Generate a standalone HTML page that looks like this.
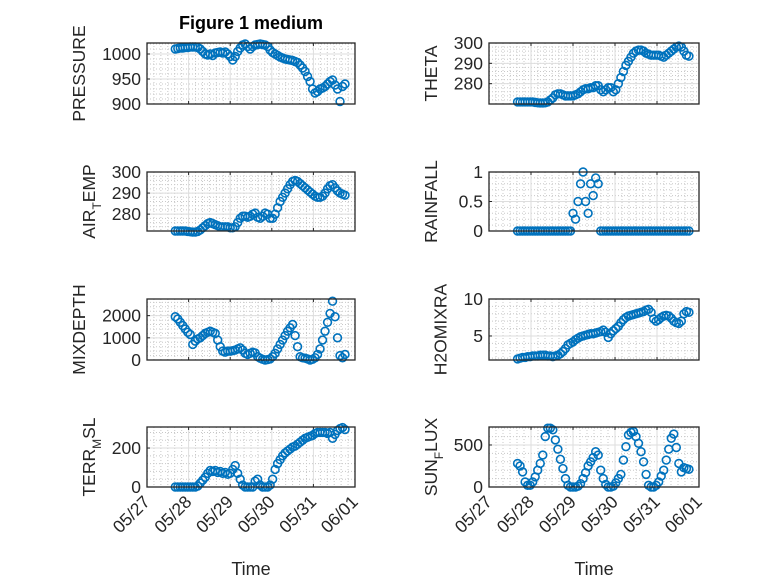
<!DOCTYPE html>
<html><head><meta charset="utf-8"><style>
html,body{margin:0;padding:0;background:#fff;}
svg{display:block;font-family:"Liberation Sans",sans-serif;}
</style></head><body>
<svg id="fig" width="778" height="583" viewBox="0 0 778 583" xmlns="http://www.w3.org/2000/svg">
<rect x="0" y="0" width="778" height="583" fill="#fff"/>
<text x="251" y="29" text-anchor="middle" font-size="18" font-weight="bold" fill="#000">Figure 1 medium</text>
</svg>
<script>
const times=[0.68,0.74,0.80,0.86,0.92,0.98,1.04,1.10,1.16,1.22,1.28,1.34,1.40,1.46,1.52,1.58,1.64,1.70,1.76,1.82,1.88,1.94,2.00,2.06,2.12,2.18,2.24,2.30,2.36,2.42,2.48,2.54,2.60,2.66,2.72,2.78,2.84,2.90,2.96,3.02,3.08,3.14,3.20,3.26,3.32,3.38,3.44,3.50,3.56,3.62,3.68,3.74,3.80,3.86,3.92,3.98,4.04,4.10,4.16,4.22,4.28,4.34,4.40,4.46,4.52,4.58,4.64,4.70,4.76];
const pressure=[1010,1011,1012,1012,1013,1013,1014,1014,1014,1013,1010,1005,1000,998,1000,997,1002,1003,1004,1002,1004,1000,995,988,995,1005,1012,1018,1020,1015,1010,1015,1018,1019,1020,1019,1018,1015,1008,1003,1000,997,994,992,990,989,988,987,985,983,978,972,965,955,945,930,922,925,930,932,935,940,945,948,938,930,905,935,940];
const theta=[271,271,271,271,271,271,271,270.8,270.6,270.5,270.5,270.6,271,272,273,274.5,275,275,274.5,274,274,274,274,274.5,275,276,277,277.5,277.5,278,278,279,279,277,276,277,278,278,276,277,280,283,286,289,291,293,295,296,296.5,296.5,296,295,294.5,294,294,294,294,293.5,293,294,295,296,297,298,298.5,298,296,294,293.5];
const airTemp=[272,272,272,272,272,271.8,271.6,271.5,271.5,271.8,272.5,273.5,274.5,275.5,276,275.5,275,274.5,274,274,274,274,273.5,273.5,274,276,278,279,279,278.5,279,280,280.5,278.5,278,279,280.5,280,278,278,280,283,286,288,290,292,294,295.5,296,295.5,294.5,293.5,292.5,291.5,290.5,289.5,288.5,288,288,288.5,290,292,293.5,294,292.5,291,290,289.5,289];
const rainfall=[0,0,0,0,0,0,0,0,0,0,0,0,0,0,0,0,0,0,0,0,0,0,0.3,0.2,0.5,0.8,1.0,0.5,0.3,0.8,0.6,0.9,0.8,0,0,0,0,0,0,0,0,0,0,0,0,0,0,0,0,0,0,0,0,0,0,0,0,0,0,0,0,0,0,0,0,0,0,0,0];
const mixDepth=[1950,1850,1700,1550,1400,1250,1150,700,850,950,1000,1100,1200,1250,1300,1250,1200,900,600,400,350,400,400,420,450,500,550,450,300,250,300,350,320,150,80,30,0,20,50,150,300,500,700,900,1100,1300,1450,1600,1100,600,150,100,80,50,0,30,100,250,500,900,1300,1700,2100,2650,1950,1000,200,100,250];
const h2oMixRa=[1.9,2.0,2.1,2.1,2.2,2.2,2.3,2.3,2.3,2.4,2.4,2.4,2.3,2.3,2.2,2.3,2.4,2.6,2.9,3.3,3.8,4.0,4.2,4.5,4.7,4.9,5.0,5.1,5.2,5.3,5.3,5.4,5.5,5.6,5.8,5.5,4.8,5.3,5.7,6.0,6.3,6.8,7.2,7.5,7.7,7.8,7.9,8.0,8.1,8.2,8.3,8.5,8.6,8.2,7.3,7.0,7.2,7.5,7.7,7.8,7.7,7.4,7.0,6.8,6.7,7.0,8.0,8.3,8.2];
const terrMsl=[0,0,0,0,0,0,0,0,0,5,20,35,50,70,85,80,85,75,80,70,75,65,70,90,110,70,40,10,0,0,0,0,30,40,10,0,0,0,10,40,90,120,140,160,175,185,195,205,210,220,230,240,250,255,260,265,275,280,280,280,280,275,280,250,270,290,300,305,295];
const sunFlux=[280,250,180,60,20,20,60,120,200,280,380,600,700,700,680,560,450,330,220,100,20,0,0,0,10,40,100,170,250,300,350,420,380,200,100,30,0,0,10,50,100,150,320,480,620,650,660,600,520,420,300,150,20,0,0,20,60,130,200,320,450,580,630,470,280,180,230,220,210];
const xTickLabels=["05/27","05/28","05/29","05/30","05/31","06/01"];
const xTickDays=[0,1,2,3,4,5];

const NS="http://www.w3.org/2000/svg";
const svg=document.getElementById('fig');
function mk(tag,attrs,parent){const e=document.createElementNS(NS,tag);for(const k in attrs)e.setAttribute(k,attrs[k]);(parent||svg).appendChild(e);return e;}

const panels=[
 {name:'pressure',label:['PRESSURE'],vals:pressure,col:0,row:0,ymin:900,ymax:1022,ticks:[900,950,1000],minor:10},
 {name:'theta',label:['THETA'],vals:theta,col:1,row:0,ymin:270,ymax:300,ticks:[280,290,300],minor:2},
 {name:'air-temp',label:['AIR','T','EMP'],vals:airTemp,col:0,row:1,ymin:272,ymax:300,ticks:[280,290,300],minor:2},
 {name:'rainfall',label:['RAINFALL'],vals:rainfall,col:1,row:1,ymin:0,ymax:1,ticks:[0,0.5,1],minor:0.1},
 {name:'mixdepth',label:['MIXDEPTH'],vals:mixDepth,col:0,row:2,ymin:0,ymax:2750,ticks:[0,1000,2000],minor:200},
 {name:'h2omixra',label:['H2OMIXRA'],vals:h2oMixRa,col:1,row:2,ymin:1.75,ymax:10,ticks:[5,10],minor:1},
 {name:'terr-msl',label:['TERR','M','SL'],vals:terrMsl,col:0,row:3,ymin:0,ymax:308,ticks:[0,200],minor:40},
 {name:'sun-flux',label:['SUN','F','LUX'],vals:sunFlux,col:1,row:3,ymin:0,ymax:714,ticks:[0,500],minor:100}
];
const colX=[[147,355],[489,699]];
const rowY=[[43,104],[172,231],[299,360],[427,487]];

panels.forEach(p=>{
 const [x0,x1]=colX[p.col],[y0,y1]=rowY[p.row];
 const sx=d=>x0+(x1-x0)*d/5;
 const sy=v=>y1-(y1-y0)*(v-p.ymin)/(p.ymax-p.ymin);
 const g=mk('g',{});
 
 
 mk('rect',{x:x0,y:y0,width:x1-x0,height:y1-y0,fill:'#fff'},g);
 for(let d=0;d<5;d+=1/6){const x=sx(d);if(Math.abs(d-Math.round(d))<1e-6)continue;
  mk('line',{x1:x,x2:x,y1:y0,y2:y1,stroke:'#c8c8c8','stroke-width':1,'stroke-dasharray':'1,2'},g);}
 const startMinor=Math.ceil(p.ymin/p.minor)*p.minor;
 for(let v=startMinor;v<p.ymax;v+=p.minor){const y=sy(v);
  mk('line',{x1:x0,x2:x1,y1:y,y2:y,stroke:'#c8c8c8','stroke-width':1,'stroke-dasharray':'1,2'},g);}
 xTickDays.forEach(d=>{const x=sx(d);mk('line',{x1:x,x2:x,y1:y0,y2:y1,stroke:'#dedede','stroke-width':1},g);
  mk('line',{x1:x,x2:x,y1:y1,y2:y1-3,stroke:'#262626','stroke-width':1},g);
  mk('line',{x1:x,x2:x,y1:y0,y2:y0+3,stroke:'#262626','stroke-width':1},g);});
 let maxW=0;
 p.ticks.forEach(v=>{const y=sy(v);mk('line',{x1:x0,x2:x1,y1:y,y2:y,stroke:'#dedede','stroke-width':1},g);
  mk('line',{x1:x0,x2:x0+3,y1:y,y2:y,stroke:'#262626'},g);
  const t=mk('text',{x:x0-6,y:y+6,'text-anchor':'end','font-size':17.5,fill:'#262626'},g);
  t.textContent=String(v);
  
  
  maxW=Math.max(maxW,String(v).length*9.7);});
 times.forEach((tm,i)=>{
  const c=mk('circle',{cx:sx(tm),cy:sy(p.vals[i]),r:3.9,fill:'none',stroke:'#0072BD','stroke-width':1.6},g);
  
  
 });
 mk('rect',{x:x0,y:y0,width:x1-x0,height:y1-y0,fill:'none',stroke:'#262626','stroke-width':1.3},g);
 const lx=x0-6-maxW-17, ly=(y0+y1)/2;
 const lab=mk('text',{x:lx,y:ly,'text-anchor':'middle','font-size':17.5,fill:'#262626',transform:`rotate(-90 ${lx} ${ly})`},g);
 
 
 if(p.label.length===1){lab.textContent=p.label[0];}
 else{const a=mk('tspan',{},lab);a.textContent=p.label[0];
  const b=mk('tspan',{dy:6,'font-size':12},lab);b.textContent=p.label[1];
  const c=mk('tspan',{dy:-6},lab);c.textContent=p.label[2];}
 if(p.row===3){
  xTickDays.forEach((d,i)=>{const x=sx(d)+4,y=y1+16;
   const t=mk('text',{x:x,y:y,'text-anchor':'end','font-size':17.5,fill:'#262626',transform:`rotate(-45 ${x} ${y})`},g);
   t.textContent=xTickLabels[i];
   
   });
  const xt=mk('text',{x:(x0+x1)/2,y:575,'text-anchor':'middle','font-size':18,fill:'#262626'},g);
  xt.textContent='Time';
  
  
 }
});
</script>
</body></html>
